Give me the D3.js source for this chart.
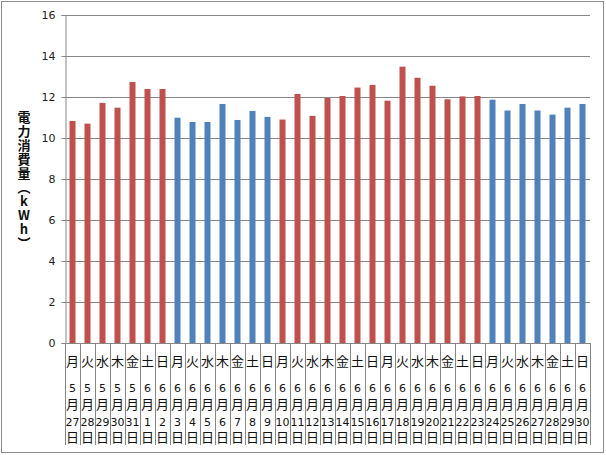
<!DOCTYPE html>
<html><head><meta charset="utf-8">
<script src="https://cdn.jsdelivr.net/npm/d3@7"></script>
<style>body{margin:0;background:#fff}svg{display:block}</style>
</head><body>
<script>
const weekdays = ["月","火","水","木","金","土","日","月","火","水","木","金","土","日","月","火","水","木","金","土","日","月","火","水","木","金","土","日","月","火","水","木","金","土","日"];
const months = [5,5,5,5,5,6,6,6,6,6,6,6,6,6,6,6,6,6,6,6,6,6,6,6,6,6,6,6,6,6,6,6,6,6,6];
const days = [27,28,29,30,31,1,2,3,4,5,6,7,8,9,10,11,12,13,14,15,16,17,18,19,20,21,22,23,24,25,26,27,28,29,30];
const values = [10.83,10.70,11.71,11.48,12.73,12.39,12.39,10.99,10.78,10.78,11.66,10.88,11.32,11.03,10.90,12.15,11.08,11.95,12.05,12.46,12.59,11.82,13.48,12.94,12.55,11.89,12.03,12.05,11.87,11.34,11.66,11.34,11.14,11.48,11.66];
const groups = [0,0,0,0,0,0,0,1,1,1,1,1,1,1,0,0,0,0,0,0,0,0,0,0,0,0,0,0,1,1,1,1,1,1,1];
const yTicks = [0,2,4,6,8,10,12,14,16];
const yTitle = "電力消費量（kWh）";

const W = 606, H = 455;
const L = 65, R = 590, T = 15, B = 343, LB = 445;
const svg = d3.select("body").append("svg").attr("width", W).attr("height", H);
svg.append("rect").attr("x",1.5).attr("y",1.5).attr("width",W-4).attr("height",H-4)
  .attr("fill","#fff").attr("stroke","#8c8c8c").attr("stroke-width",1);

const idx = d3.range(values.length);
const x = d3.scaleBand().domain(idx).range([L, R]).paddingInner(0.6).paddingOuter(0.3);
const y = d3.scaleLinear().domain([0, 16]).range([B, T]);
const color = d3.scaleOrdinal().domain([0,1]).range(["#C0504D","#4F81BD"]);

// gridlines
svg.append("g").selectAll("line").data(yTicks.filter(d=>d>0)).join("line")
  .attr("x1", L).attr("x2", R).attr("y1", d=>Math.round(y(d))+0.5).attr("y2", d=>Math.round(y(d))+0.5)
  .attr("stroke","#868686").attr("stroke-width",1);

// y axis
const yAxis = d3.axisLeft(y).tickValues(yTicks).tickSize(4).tickPadding(6).tickFormat(d3.format("d"));
const gy = svg.append("g").attr("transform",`translate(${L+0.5},0)`).call(yAxis);
gy.select(".domain").attr("stroke","#868686");
gy.selectAll(".tick line").attr("stroke","#868686");
gy.selectAll(".tick text").attr("font-family","'DejaVu Sans', sans-serif").attr("font-size",11).attr("fill","#222");

// bars
svg.append("g").selectAll("rect").data(idx).join("rect")
  .attr("x", i=>x(i)).attr("width", x.bandwidth())
  .attr("y", i=>y(values[i])).attr("height", i=>y(0)-y(values[i]))
  .attr("fill", i=>color(groups[i]));

// x axis baseline & separators
const step = (R - L) / values.length;
svg.append("line").attr("x1",L).attr("x2",R).attr("y1",B+0.5).attr("y2",B+0.5).attr("stroke","#868686");
svg.append("g").selectAll("line").data(d3.range(values.length+1)).join("line")
  .attr("x1", i=>Math.round(L+i*step)+0.5).attr("x2", i=>Math.round(L+i*step)+0.5)
  .attr("y1", B).attr("y2", LB).attr("stroke","#868686");

// category labels
const lab = svg.append("g").attr("font-family","'Noto Sans CJK JP', sans-serif").attr("fill","#111").attr("text-anchor","middle");
idx.forEach(i=>{
  const cx = x(i) + x.bandwidth()/2;
  lab.append("text").attr("x",cx).attr("y",366).attr("font-size",13).text(weekdays[i]);
  lab.append("text").attr("x",cx).attr("y",392).attr("font-size",11).attr("font-family","'DejaVu Sans', sans-serif").text(months[i]);
  lab.append("text").attr("x",cx).attr("y",409).attr("font-size",13).text("月");
  const dt = lab.append("text").attr("x",cx).attr("y",425.5).attr("font-size",11).attr("font-family","'DejaVu Sans', sans-serif").text(days[i]);
  if (String(days[i]).length > 1) dt.attr("textLength",14).attr("lengthAdjust","spacingAndGlyphs");
  lab.append("text").attr("x",cx).attr("y",442).attr("font-size",13).text("日");
});

// y title, vertical upright writing
svg.append("text")
  .attr("x", 24).attr("y", 181)
  .attr("font-family","'Noto Sans CJK JP', sans-serif").attr("font-weight","bold").attr("font-size",13)
  .attr("fill","#111").attr("text-anchor","middle")
  .style("writing-mode","vertical-rl").style("text-orientation","upright").style("letter-spacing","1px")
  .text(yTitle);
</script>
</body></html>
